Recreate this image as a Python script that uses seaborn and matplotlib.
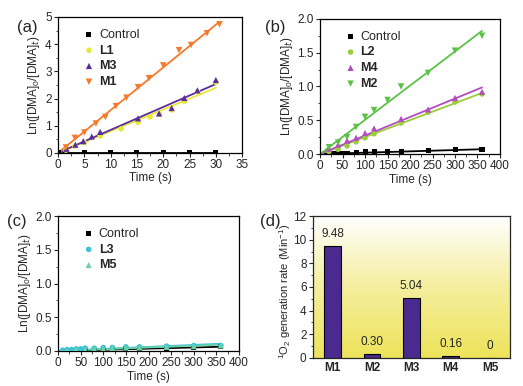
import numpy as np
import pandas as pd
import seaborn as sns
import matplotlib.pyplot as plt
from matplotlib.colors import LinearSegmentedColormap
from matplotlib.ticker import AutoMinorLocator

sns.set_style("ticks")
plt.rcParams['font.family'] = ['Liberation Sans', 'DejaVu Sans']
plt.rcParams['mathtext.fontset'] = 'custom'
plt.rcParams['mathtext.rm'] = 'Liberation Sans'

# ---- panel (a) data
a_ctrl_t = [0, 5, 10, 15, 20, 25, 30]
a_ctrl_y = [0, 0, 0, 0, 0, 0, 0]
a_l1_t = [1.5, 3.2, 5, 8, 12, 15.2, 17.5, 19.3, 21.6, 24, 26.5, 30]
a_l1_y = [0.1, 0.25, 0.38, 0.62, 0.88, 1.12, 1.32, 1.42, 1.58, 1.9, 2.25, 2.6]
a_m3_t = [1.6, 3.3, 4.8, 6.4, 8, 15.2, 19.2, 21.6, 24, 26.5, 30]
a_m3_y = [0.15, 0.3, 0.43, 0.6, 0.77, 1.27, 1.45, 1.65, 2.02, 2.3, 2.68]
a_m1_t = [1.5, 3.2, 5, 7.2, 9, 11, 13, 15.2, 17.3, 20, 23, 25.3, 28.3, 30.7]
a_m1_y = [0.2, 0.55, 0.75, 1.08, 1.32, 1.72, 2.03, 2.42, 2.75, 3.22, 3.78, 3.97, 4.4, 4.73]

# ---- panel (b) data
b_ctrl_t = [20, 30, 40, 50, 60, 80, 100, 120, 150, 180, 240, 300, 360]
b_ctrl_y = [0.0, 0.01, 0.01, 0.01, 0.01, 0.02, 0.03, 0.03, 0.03, 0.04, 0.05, 0.06, 0.06]
b_l2_t = [20, 40, 60, 80, 100, 120, 180, 240, 300, 360]
b_l2_y = [0.04, 0.07, 0.12, 0.18, 0.24, 0.3, 0.46, 0.62, 0.77, 0.89]
b_m4_t = [20, 40, 60, 80, 100, 120, 180, 240, 300, 360]
b_m4_y = [0.08, 0.14, 0.2, 0.24, 0.31, 0.38, 0.52, 0.66, 0.83, 0.92]
b_m2_t = [20, 40, 60, 80, 100, 120, 150, 180, 240, 300, 360]
b_m2_y = [0.1, 0.17, 0.25, 0.4, 0.55, 0.65, 0.8, 1.0, 1.2, 1.53, 1.75]

# ---- panel (c) data
c_ctrl_t = [20, 40, 60, 80, 100, 120, 150, 180, 240, 300, 360]
c_ctrl_y = [0.0, 0.01, 0.01, 0.01, 0.02, 0.02, 0.03, 0.03, 0.04, 0.05, 0.06]
c_l3_t = [10, 20, 30, 40, 50, 60, 80, 100, 120, 150, 180, 240, 300, 360]
c_l3_y = [0.01, 0.02, 0.02, 0.03, 0.03, 0.04, 0.04, 0.05, 0.05, 0.06, 0.06, 0.07, 0.08, 0.08]
c_m5_t = [20, 40, 60, 80, 100, 120, 150, 180, 240, 300, 360]
c_m5_y = [0.01, 0.02, 0.02, 0.03, 0.03, 0.04, 0.05, 0.05, 0.06, 0.07, 0.08]

# ---- panel (d) data
d_names = ['M1', 'M2', 'M3', 'M4', 'M5']
d_rates = [9.48, 0.30, 5.04, 0.16, 0.0]
d_labels = ['9.48', '0.30', '5.04', '0.16', '0']

ylab = r'Ln([DMA]$_0$/[DMA]$_t$)'

fig = plt.figure(figsize=(5.23, 3.86), dpi=100)
axA = fig.add_axes([0.111, 0.604, 0.352, 0.352])
axB = fig.add_axes([0.612, 0.601, 0.344, 0.350])
axC = fig.add_axes([0.111, 0.091, 0.346, 0.349])
axD = fig.add_axes([0.598, 0.073, 0.377, 0.367])


def series(ax, t, y, color, marker, label, ms=16):
    df = pd.DataFrame({'t': t, 'y': y})
    sns.scatterplot(data=df, x='t', y='y', ax=ax, color=color, marker=marker,
                    s=ms, edgecolor='none', label=label, zorder=3)
    # linear fit through the origin
    k = np.sum(np.array(t) * np.array(y)) / np.sum(np.array(t) ** 2)
    xx = np.array([0, max(t)])
    ax.plot(xx, k * xx, color=color, lw=1.3, zorder=2)


def style(ax, xlim, ylim, xstep, ystep):
    ax.set_xlim(*xlim)
    ax.set_ylim(*ylim)
    ax.set_xticks(np.arange(xlim[0], xlim[1] + 0.001, xstep))
    ax.set_yticks(np.arange(ylim[0], ylim[1] + 0.001, ystep))
    ax.xaxis.set_minor_locator(AutoMinorLocator(2))
    ax.yaxis.set_minor_locator(AutoMinorLocator(2))
    ax.tick_params(labelsize=8.5, length=3, width=0.8, pad=1.5)
    ax.tick_params(which='minor', length=1.8, width=0.6)
    for s in ax.spines.values():
        s.set_linewidth(0.9)
        s.set_color('black')
    ax.set_xlabel('Time (s)', fontsize=8.5, labelpad=1)
    ax.set_ylabel(ylab, fontsize=8.5, labelpad=2)


def legend(ax):
    leg = ax.legend(loc='upper left', frameon=False, fontsize=9, handletextpad=0.2,
                    labelspacing=0.3, borderaxespad=0, markerscale=1.0,
                    bbox_to_anchor=(0.1, 0.95), handlelength=1.2)
    for i, txt in enumerate(leg.get_texts()):
        if i >= 1:
            txt.set_fontweight('bold')


# (a)
series(axA, a_ctrl_t, a_ctrl_y, 'black', 's', 'Control', ms=13)
series(axA, a_l1_t, a_l1_y, '#E8E83A', 'o', 'L1')
series(axA, a_m3_t, a_m3_y, '#5A2D9C', '^', 'M3', ms=20)
series(axA, a_m1_t, a_m1_y, '#F57A2A', 'v', 'M1', ms=22)
style(axA, (0, 35), (0, 5), 5, 1)
axA.set_yticklabels(['0', '1', '2', '3', '4', '5'])
legend(axA)

# (b)
series(axB, b_ctrl_t, b_ctrl_y, 'black', 's', 'Control', ms=13)
series(axB, b_l2_t, b_l2_y, '#9ACD3A', 'o', 'L2')
series(axB, b_m4_t, b_m4_y, '#B24CC0', '^', 'M4', ms=20)
series(axB, b_m2_t, b_m2_y, '#5CC247', 'v', 'M2', ms=22)
style(axB, (0, 400), (0, 2.0), 50, 0.5)
axB.set_yticklabels(['0.0', '0.5', '1.0', '1.5', '2.0'])
legend(axB)

# (c)
series(axC, c_ctrl_t, c_ctrl_y, 'black', 's', 'Control', ms=13)
series(axC, c_l3_t, c_l3_y, '#3CC3D6', 'o', 'L3')
series(axC, c_m5_t, c_m5_y, '#6BD1A6', '^', 'M5', ms=20)
style(axC, (0, 400), (0, 2.0), 50, 0.5)
axC.set_yticklabels(['0.0', '0.5', '1.0', '1.5', '2.0'])
legend(axC)

# (d)
cmap = LinearSegmentedColormap.from_list('yel', ['#EDE35A', '#F5EE9E', '#FFFFFF'])
grad = np.linspace(0, 1, 256).reshape(-1, 1)
axD.imshow(grad, aspect='auto', cmap=cmap, origin='lower',
           extent=(-0.5, 4.5, 0, 12), zorder=0)
dfd = pd.DataFrame({'name': d_names, 'rate': d_rates})
sns.barplot(data=dfd, x='name', y='rate', ax=axD, color='#4B2A8F',
            edgecolor='black', linewidth=0.8, width=0.42, saturation=1, zorder=2)
axD.set_xlim(-0.5, 4.5)
axD.set_ylim(0, 12)
axD.set_yticks(range(0, 13, 2))
axD.yaxis.set_minor_locator(AutoMinorLocator(2))
for i, (v, lab) in enumerate(zip(d_rates, d_labels)):
    axD.text(i, v + 0.5, lab, ha='center', va='bottom', fontsize=8.5)
axD.tick_params(labelsize=8.5, length=3, width=0.8, pad=1.5)
axD.tick_params(axis='x', length=0, pad=3)
axD.tick_params(which='minor', length=1.8, width=0.6)
for lab in axD.get_xticklabels():
    lab.set_fontweight('bold')
for s in axD.spines.values():
    s.set_linewidth(0.9)
axD.set_xlabel('')
axD.set_ylabel(r'$^1$O$_2$ generation rate (Min$^{-1}$)', fontsize=8, labelpad=4)
axD.yaxis.set_label_coords(-0.1, 0.47)

# panel letters
fig.text(0.032, 0.918, '(a)', fontsize=12)
fig.text(0.507, 0.918, '(b)', fontsize=12)
fig.text(0.013, 0.415, '(c)', fontsize=12)
fig.text(0.497, 0.415, '(d)', fontsize=12)

fig.savefig('out.png', dpi=100)
